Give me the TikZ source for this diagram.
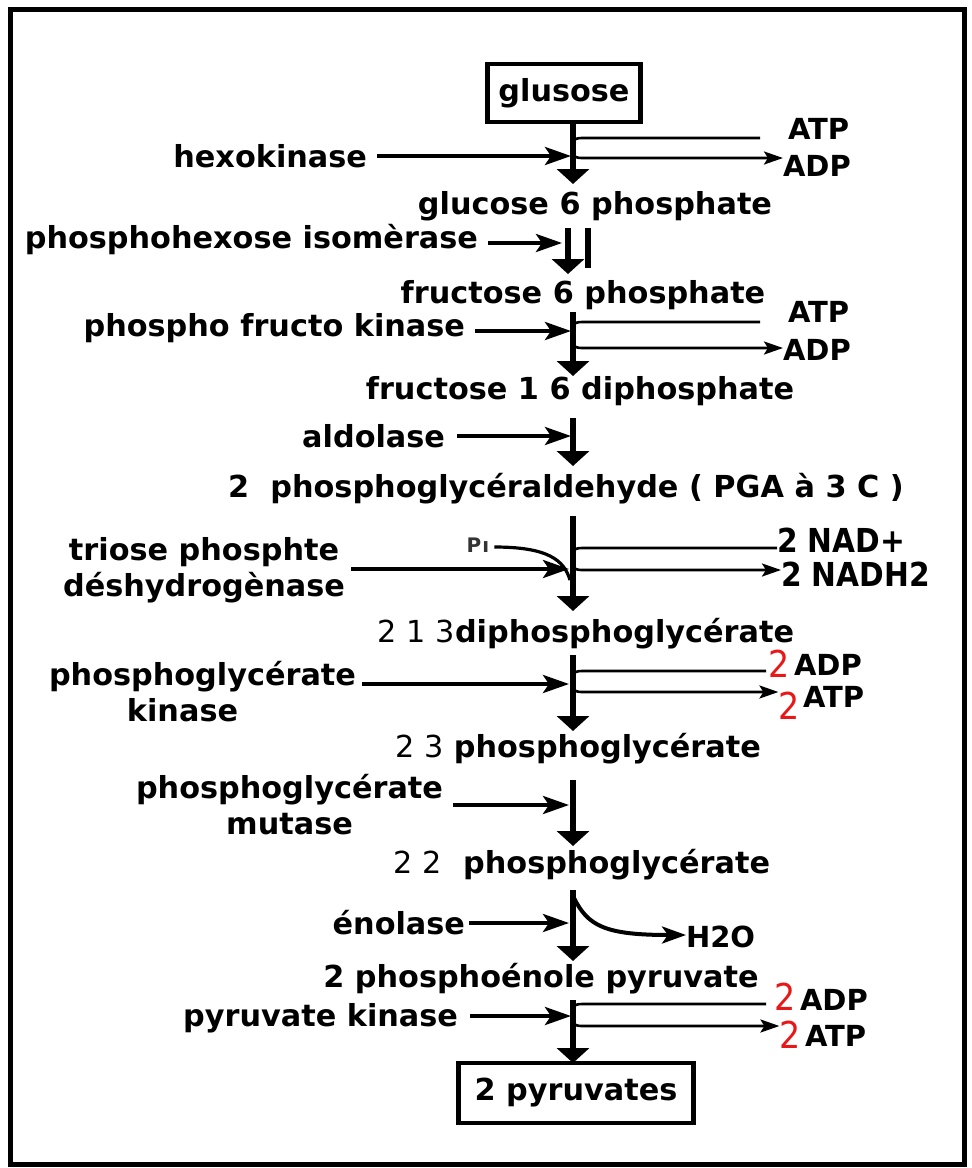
\documentclass[tikz,border=0pt]{standalone}
\usepackage{fontspec}
\setmainfont{DejaVu Sans}
\newfontfamily\condf{DejaVu Sans Condensed}
\usetikzlibrary{arrows.meta}
\definecolor{twored}{RGB}{232,24,24}
\begin{document}
\begin{tikzpicture}[x=1pt,y=-1pt,
  every node/.style={inner sep=0pt, outer sep=0pt},
  txt/.style={font=\fontsize{30.3}{36}\selectfont\bfseries},
  enz/.style={txt, anchor=east, align=center},
  prod/.style={font=\fontsize{29}{32}\selectfont\bfseries, anchor=west},
  nadt/.style={font=\condf\fontsize{33}{34}\selectfont\bfseries, anchor=west},
  box/.style={txt, draw, line width=4.5pt, inner sep=0pt},
  mainar/.style={line width=6.5pt, -{Triangle[width=32pt,length=15pt]}},
  bar/.style={line width=6pt},
  enzar/.style={line width=4.2pt, -{Stealth[length=26pt,width=18pt,inset=6pt]}},
  sidel/.style={line width=2.6pt},
  sidear/.style={line width=2.6pt, -{Stealth[length=19pt,width=13pt,inset=4pt]}},
  rtwo/.style={font=\condf\fontsize{37}{37}\selectfont, text=twored, anchor=center}
]
\useasboundingbox (0,0) rectangle (972,1168);
\draw[line width=5pt] (10,9) rectangle (964,1164);

% ---------- metabolites ----------
\node[box, minimum width=153pt, minimum height=58pt] (glu) at (564,93) {glusose};
\node[txt] (g6p) at (595,206) {glucose 6 phosphate};
\node[txt] (f6p) at (583,295) {fructose 6 phosphate};
\node[txt] (f16) at (580,391) {fructose 1 6 diphosphate};
\node[txt] (pga) at (566,489) {2\ \ phosphoglycéraldehyde ( PGA à 3 C )};
\node[txt] (dpg) at (586,634) {{\mdseries 2 1 3}diphosphoglycérate};
\node[txt] (pg3) at (578,749) {{\mdseries 2 3} phosphoglycérate};
\node[txt] (pg2) at (582,865) {{\mdseries 2 2}\ \ phosphoglycérate};
\node[txt] (pep) at (541,979) {2 phosphoénole pyruvate};
\node[box, minimum width=235pt, minimum height=60pt] (pyr) at (576,1093) {2 pyruvates};

% ---------- axis coordinates ----------
\coordinate (ax) at (573,0);

% ---------- step 1 : hexokinase ----------
\coordinate (b1) at (573,184);
\draw[mainar] (glu.south -| ax) -- (b1);
\node[enz] (e1) at (367,156) {hexokinase};
\draw[enzar, shorten <=10pt, shorten >=2pt] (e1.east) -- (e1.east -| ax);
\node[prod] (atp1) at (788,129) {ATP};
\node[prod] (adp1) at (783,166) {ADP};
\coordinate (s1a) at (573,144);
\coordinate (s1b) at (573,152);
\draw[sidel] (s1a) .. controls (575,138) .. (586,138) -- (760,138);
\draw[sidear] (s1b) .. controls (575,158) .. (586,158) -- (adp1.west |- 0,158);

% ---------- step 2 : phosphohexose isomerase ----------
\node[enz] (e2) at (478,240) {phosphohexose isomèrase};
\coordinate (t2) at (568,228);
\coordinate (b2) at (568,274);
\coordinate (t2r) at (588,228);
\coordinate (b2r) at (588,268);
\draw[mainar] (t2) -- (b2);
\draw[bar] (t2r) -- (b2r);
\draw[enzar, shorten <=10pt, shorten >=3pt] (e2.east |- 0,243) -- (565,243);

% ---------- step 3 : phospho fructo kinase ----------
\coordinate (t3) at (573,312);
\coordinate (b3) at (573,376);
\draw[mainar] (t3) -- (b3);
\node[enz] (e3) at (465,328) {phospho fructo kinase};
\draw[enzar, shorten <=10pt, shorten >=2pt] (e3.east |- 0,331) -- (ax |- 0,331);
\node[prod] (atp3) at (788,312) {ATP};
\node[prod] (adp3) at (783,350) {ADP};
\coordinate (s3a) at (573,328);
\coordinate (s3b) at (573,342);
\draw[sidel] (s3a) .. controls (575,322) .. (586,322) -- (760,322);
\draw[sidear] (s3b) .. controls (575,348) .. (586,348) -- (adp3.west |- 0,348);

% ---------- step 4 : aldolase ----------
\coordinate (t4) at (573,418);
\coordinate (b4) at (573,466);
\draw[mainar] (t4) -- (b4);
\node[enz] (e4) at (445,436) {aldolase};
\draw[enzar, shorten <=12pt, shorten >=2pt] (e4.east) -- (e4.east -| ax);

% ---------- step 5 : triose phosphate dehydrogenase ----------
\coordinate (t5) at (573,516);
\coordinate (b5) at (573,611);
\draw[mainar] (t5) -- (b5);
\node[enz] (e5) at (345,570) {triose phosphte\\déshydrogènase};
\draw[enzar, shorten <=6pt, shorten >=4pt] (e5.east |- 0,569) -- (ax |- 0,569);
\node[font=\fontsize{20}{20}\selectfont\bfseries, text=black!80] (pi) at (478,545) {P\kern1pt ı};
\coordinate (pie) at (570,580);
\draw[line width=3.2pt] (pi.east) ++(5,2) .. controls (548,547) and (564,560) .. (pie);
\node[nadt] (nad) at (777,540) {2 NAD+};
\node[nadt] (nadh) at (781,574) {2 NADH2};
\coordinate (s5a) at (573,554);
\coordinate (s5b) at (573,564);
\draw[sidel] (s5a) .. controls (575,548) .. (586,548) -- (nad.west |- 0,548);
\draw[sidear] (s5b) .. controls (575,570) .. (586,570) -- (nadh.west |- 0,570);

% ---------- step 6 : phosphoglycerate kinase ----------
\coordinate (t6) at (573,655);
\coordinate (b6) at (573,731);
\draw[mainar] (t6) -- (b6);
\node[enz] (e6) at (356,692) {phosphoglycérate\\kinase\hspace*{40pt}};
\draw[enzar, shorten <=6pt, shorten >=4pt] (e6.east |- 0,684) -- (ax |- 0,684);
\node[rtwo] (r6a) at (779,664) {2};
\node[prod] (adp6) at (794,665) {ADP};
\node[rtwo] (r6b) at (789,706) {2};
\node[prod] (atp6) at (803,697) {ATP};
\coordinate (s6a) at (573,677);
\coordinate (s6b) at (573,686);
\draw[sidel] (s6a) .. controls (575,671) .. (586,671) -- (766,671);
\draw[sidear] (s6b) .. controls (575,692) .. (586,692) -- (r6b.west |- 0,692);

% ---------- step 7 : phosphoglycerate mutase ----------
\coordinate (t7) at (573,780);
\coordinate (b7) at (573,846);
\draw[mainar] (t7) -- (b7);
\node[enz] (e7) at (443,805) {phosphoglycérate\\mutase};
\draw[enzar, shorten <=10pt, shorten >=4pt] (e7.east) -- (e7.east -| ax);

% ---------- step 8 : enolase ----------
\coordinate (t8) at (573,890);
\coordinate (b8) at (573,961);
\draw[mainar] (t8) -- (b8);
\node[enz] (e8) at (465,923) {énolase};
\draw[enzar, shorten <=4pt, shorten >=4pt] (e8.east) -- (e8.east -| ax);
\node[font=\fontsize{29}{30}\selectfont\bfseries, anchor=west] (h2o) at (686,937) {H2O};
\coordinate (s8a) at (574,898);
\draw[line width=4pt, -{Stealth[length=24pt,width=17pt,inset=6pt]}] (s8a) .. controls (588,926) and (605,935) .. (h2o.west |- 0,935);

% ---------- step 9 : pyruvate kinase ----------
\coordinate (t9) at (573,1000);
\draw[mainar] (t9) -- (pyr.north -| ax);
\node[enz] (e9) at (458,1018) {pyruvate kinase};
\draw[enzar, shorten <=12pt, shorten >=2pt] (e9.east |- 0,1016) -- (ax |- 0,1016);
\node[rtwo] (r9a) at (785,997) {2};
\node[prod] (adp9) at (800,1000) {ADP};
\node[rtwo] (r9b) at (790,1035) {2};
\node[prod] (atp9) at (805,1036) {ATP};
\coordinate (s9a) at (573,1010);
\coordinate (s9b) at (573,1020);
\draw[sidel] (s9a) .. controls (575,1004) .. (586,1004) -- (766,1004);
\draw[sidear] (s9b) .. controls (575,1026) .. (586,1026) -- (r9b.west |- 0,1026);
\end{tikzpicture}
\end{document}
